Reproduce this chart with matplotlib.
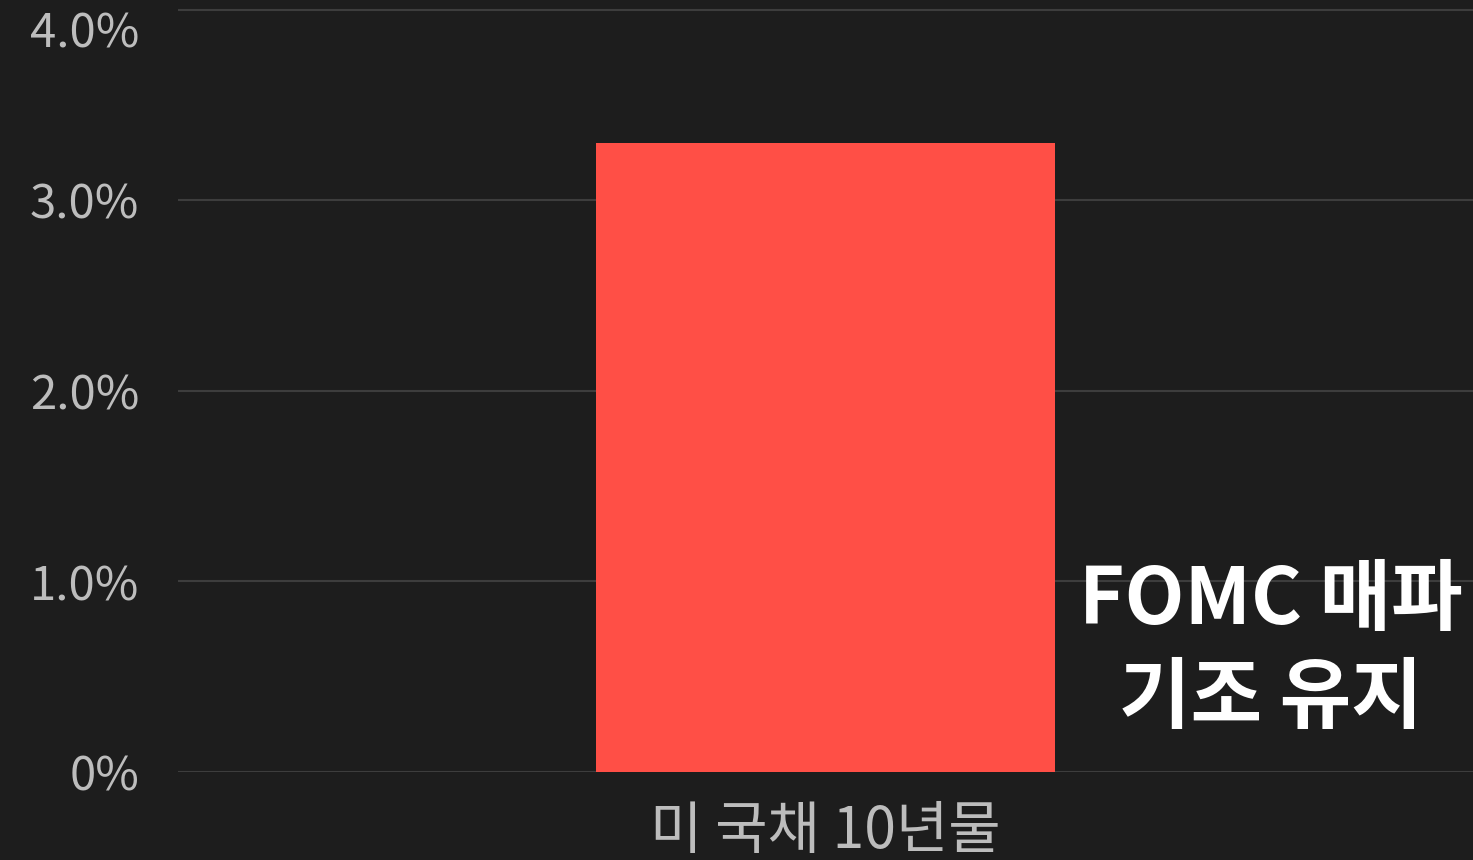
import matplotlib.pyplot as plt

plt.rcParams['font.family'] = ['Noto Sans CJK KR', 'DejaVu Sans']

# data
categories = ["미 국채 10년물"]
values = [3.30]
y_ticks = [0, 1, 2, 3, 4]
y_tick_labels = ["0%", "1.0%", "2.0%", "3.0%", "4.0%"]
note = "FOMC 매파\n기조 유지"

BG = "#1d1d1d"
BAR = "#ff4f46"
GRID = "#3d3d3d"
TICK = "#bdbdbd"


def main():
    fig = plt.figure(figsize=(14.73, 8.6), dpi=100, facecolor=BG)
    ax = fig.add_axes([178 / 1473, 88 / 860, 1 - 178 / 1473, 772 / 860])
    ax.set_facecolor(BG)

    ax.bar(range(len(categories)), values, width=0.354, color=BAR, zorder=3)

    ax.set_xlim(-0.5, 0.5)
    ax.set_ylim(0, 4.05)
    ax.set_yticks(y_ticks)
    ax.set_yticklabels(y_tick_labels, fontweight="light")
    ax.set_xticks(range(len(categories)))
    ax.set_xticklabels(categories, fontweight="light")

    ax.grid(axis="y", color=GRID, linewidth=1.5, zorder=0)
    for s in ax.spines.values():
        s.set_visible(False)
    ax.tick_params(axis="y", length=0, pad=28, labelsize=34, labelcolor=TICK)
    ax.tick_params(axis="x", length=0, pad=22, labelsize=41, labelcolor=TICK)
    # top label would be cut at the figure edge, hang it below its line
    ax.get_yticklabels()[-1].set_va("top")

    ax.text(0.844, 0.158, note, transform=ax.transAxes, ha="center", va="center",
            fontsize=56, fontweight="bold", color="white", linespacing=1.3)

    fig.savefig("out.png", dpi=100, facecolor=BG)


if __name__ == "__main__":
    main()
